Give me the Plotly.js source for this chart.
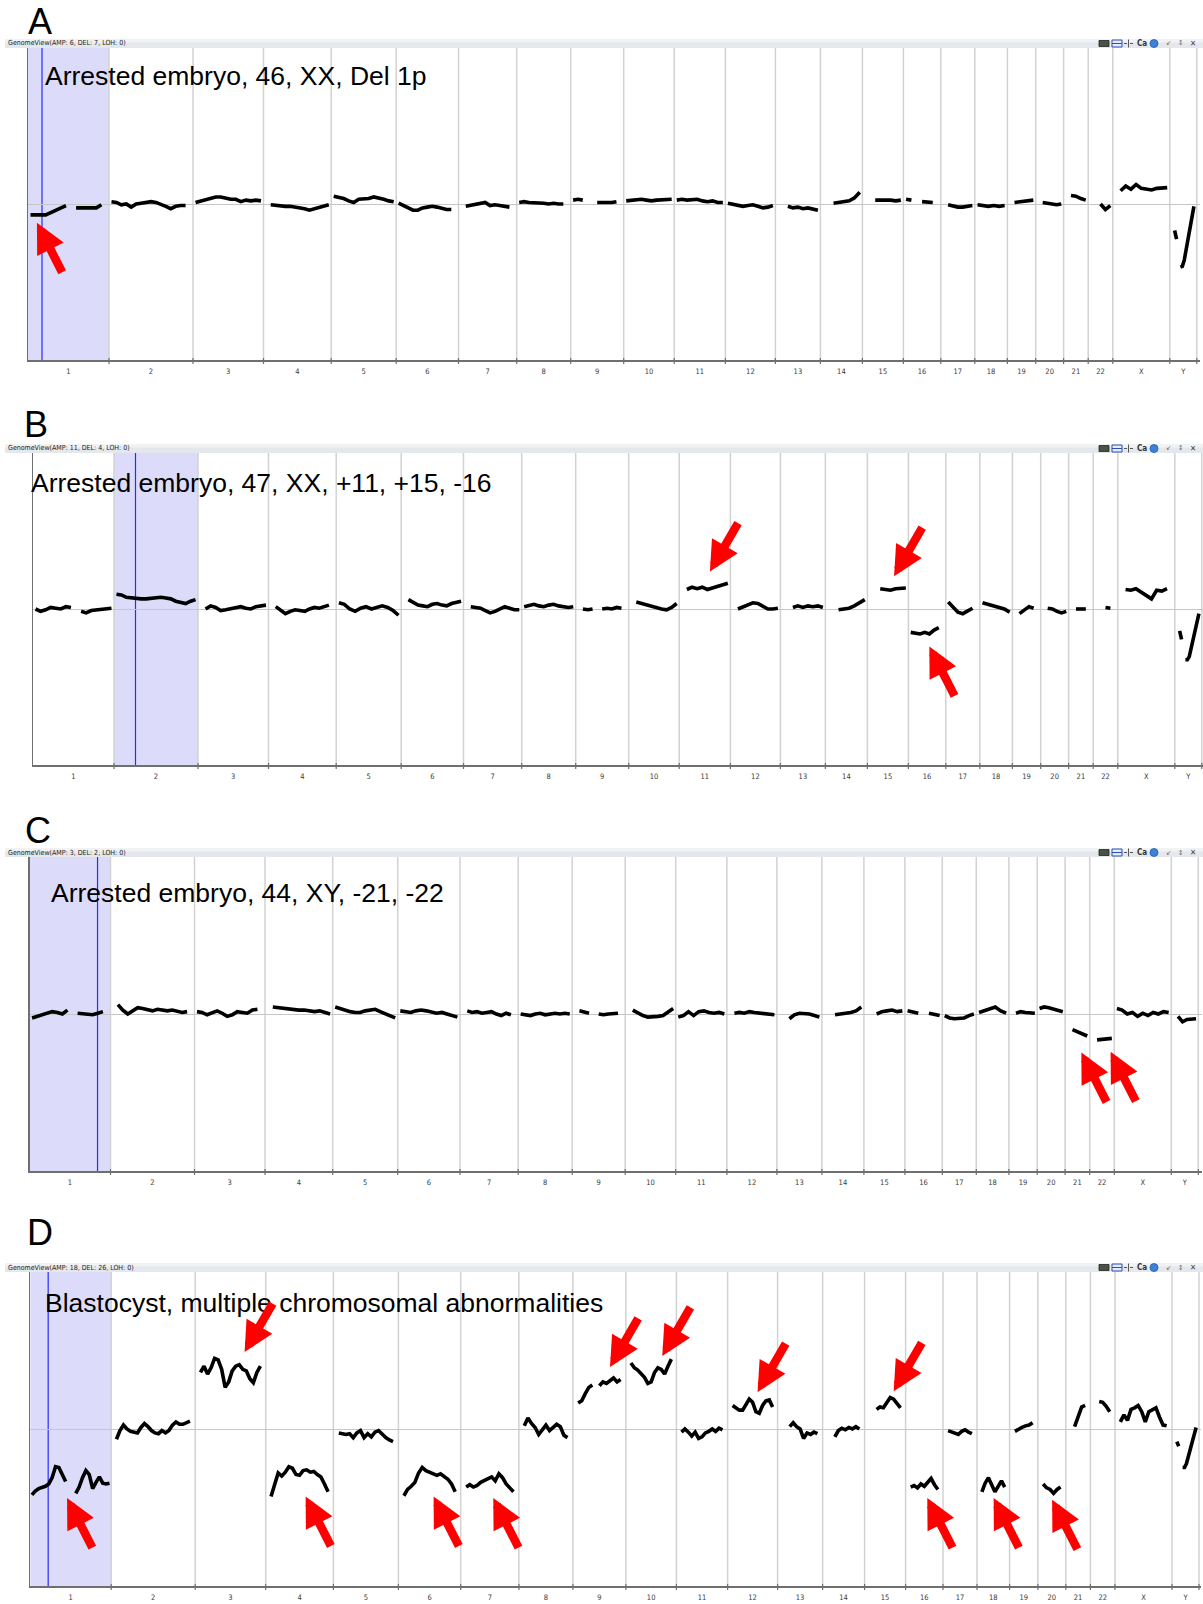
<!DOCTYPE html>
<html>
<head>
<meta charset="utf-8">
<script src="https://cdn.plot.ly/plotly-3.0.1.min.js"></script>
<style>html,body{margin:0;padding:0;background:#fff;}#chart{width:1203px;height:1604px;}</style>
</head>
<body>
<div id="chart"></div>
<script>
// ---------------- DATA ----------------
const chromNames = ['1','2','3','4','5','6','7','8','9','10','11','12','13','14','15','16','17','18','19','20','21','22','X','Y'];
// relative display width of each chromosome in the genome view
const chromSpan = [81,84,70.5,67.7,65,62.3,58.2,54,53,50.5,51.2,50,45,42,41,37.4,34,32.6,28.3,27.9,24.6,24.6,57,27];

const panelTitles = ['Arrested embryo, 46, XX, Del 1p','Arrested embryo, 47, XX, +11, +15, -16','Arrested embryo, 44, XY, -21, -22','Blastocyst, multiple chromosomal abnormalities'];
const panelLetters = ['A','B','C','D'];
const headerTexts = ['GenomeView(AMP: 6, DEL: 7, LOH: 0)','GenomeView(AMP: 11, DEL: 4, LOH: 0)','GenomeView(AMP: 3, DEL: 2, LOH: 0)','GenomeView(AMP: 18, DEL: 26, LOH: 0)'];

// smoothed copy-number ratio per chromosome (evenly spaced bins along each chromosome; null = no data)
const panelA = [
 [-0.14,-0.14,-0.15,-0.14,-0.11,-0.08,-0.04,-0.02,null,-0.05,-0.05,-0.05,-0.04,-0.05,-0.01,null],
 [0.03,0.02,-0.01,0.0,-0.04,0.0,0.01,0.02,0.03,0.02,0.0,-0.03,-0.06,-0.03,-0.02,-0.02,null],
 [0.02,0.04,0.05,0.07,0.09,0.09,0.07,0.06,0.06,0.03,0.05,0.04,0.05,0.04],
 [null,-0.01,-0.02,-0.03,-0.03,-0.03,-0.04,-0.04,-0.06,-0.08,-0.06,-0.04,-0.02,-0.01],
 [0.10,0.09,0.07,0.04,0.02,0.06,0.06,0.07,0.09,0.08,0.06,0.04,0.03],
 [0.01,-0.02,-0.06,-0.08,-0.08,-0.05,-0.04,-0.03,-0.04,-0.06,-0.07,-0.07,null],
 [null,-0.03,-0.02,-0.01,0.01,0.02,-0.02,-0.01,-0.02,-0.03,-0.04,null],
 [0.02,0.03,0.02,0.02,0.01,0.01,0.0,0.01,0.0,0.0,null],
 [0.05,0.06,0.05,null,null,0.02,0.02,0.01,0.02,0.03,null],
 [0.04,0.05,0.06,0.06,0.05,0.04,0.05,0.05,0.06,0.06],
 [0.05,0.06,0.05,0.05,0.06,0.04,0.03,0.04,0.02,0.02],
 [0.01,0.0,-0.02,-0.03,-0.02,-0.01,-0.03,-0.05,-0.04,-0.02],
 [null,null,-0.03,-0.05,-0.04,-0.06,-0.05,-0.07,-0.08],
 [null,null,0.01,0.02,0.03,0.04,0.08,0.15],
 [null,null,0.05,0.05,0.06,0.05,0.04,0.05],
 [0.06,0.05,null,0.03,0.03,0.02,null],
 [null,-0.01,-0.03,-0.04,-0.04,-0.03,-0.02],
 [-0.01,-0.02,-0.03,-0.02,-0.03,-0.02],
 [null,0.02,0.03,0.03,0.04,0.05],
 [null,0.02,0.01,0.0,-0.01,0.0],
 [null,0.11,0.10,0.07,0.05],
 [null,null,0.0,-0.07,-0.02],
 [null,0.17,0.23,0.19,0.25,0.20,0.19,0.18,0.20,0.20,0.21],
 [null,null,-0.34,-0.45,null,-0.81,-0.80,-0.72,-0.58,-0.44,-0.30,-0.16,-0.03,null]
];
const panelB = [
 [0.0,-0.03,-0.01,0.02,0.01,0.0,0.03,0.02,null,-0.03,-0.05,-0.02,-0.01,0.0,0.0,0.01],
 [0.19,0.18,0.15,0.14,0.13,0.13,0.13,0.14,0.15,0.15,0.14,0.13,0.10,0.08,0.07,0.10,0.12],
 [null,0.0,0.04,0.02,-0.02,-0.01,0.0,0.02,0.03,0.01,0.0,0.03,0.04,0.05],
 [null,0.03,-0.02,-0.06,-0.03,-0.01,-0.02,-0.03,0.0,0.02,0.01,0.03,0.05,null],
 [0.08,0.06,0.0,-0.03,0.01,0.03,0.0,0.02,0.04,0.02,-0.02,-0.08],
 [null,0.12,0.08,0.05,0.04,0.03,0.06,0.07,0.05,0.04,0.07,0.09,0.10],
 [null,0.03,0.02,0.01,-0.02,-0.05,-0.03,0.0,0.03,0.01,-0.01,-0.01],
 [0.03,0.04,0.06,0.04,0.03,0.05,0.06,0.04,0.03,0.02,0.03],
 [null,0.0,-0.01,0.0,null,0.0,0.01,0.0,0.02,0.01,null],
 [null,0.09,0.07,0.06,0.04,0.02,0.0,-0.01,0.02,0.07],
 [null,0.25,0.28,0.26,0.28,0.25,0.27,0.29,0.30,0.33],
 [null,0.0,0.03,0.06,0.08,0.07,0.04,0.0,0.0,0.01],
 [null,null,0.02,0.04,0.02,0.04,0.03,0.04,0.02],
 [null,null,-0.01,0.0,0.01,0.04,0.08,0.12],
 [null,null,0.26,0.25,0.24,0.26,0.27,0.27],
 [-0.30,-0.31,-0.32,-0.30,-0.32,-0.27,-0.24,null],
 [0.09,0.03,-0.04,-0.06,-0.03,0.01,null],
 [0.08,0.06,0.04,0.03,0.0,-0.04],
 [null,-0.06,-0.01,0.03,0.01,null],
 [null,0.01,0.0,-0.03,-0.05,-0.03],
 [null,0.0,0.0,0.0,null],
 [null,null,0.02,0.01,null],
 [null,0.25,0.24,0.26,0.22,0.18,0.13,0.24,0.23,0.26,null],
 [null,null,-0.28,-0.39,null,-0.65,-0.65,-0.61,-0.50,-0.39,-0.28,-0.17,-0.06,null]
];
const panelC = [
 [-0.05,-0.03,0.0,0.02,0.03,0.02,0.0,0.05,null,0.01,0.0,-0.01,-0.01,0.01,0.03,null],
 [null,0.12,0.05,0.0,0.04,0.08,0.07,0.05,0.04,0.06,0.05,0.04,0.05,0.03,0.02,0.03,null],
 [0.03,0.02,-0.01,0.01,0.04,0.01,-0.03,-0.01,0.03,0.02,0.01,0.05,0.06,null],
 [null,0.09,0.08,0.07,0.06,0.06,0.05,0.05,0.04,0.03,0.04,0.02,0.0],
 [0.09,0.07,0.04,0.03,0.02,0.02,0.04,0.05,0.06,0.03,0.0,-0.03,-0.05],
 [0.04,0.03,0.02,0.04,0.05,0.04,0.02,0.01,0.02,0.0,-0.02,-0.04],
 [null,0.04,0.02,0.03,0.01,0.02,0.03,0.0,-0.02,0.01,-0.01,null],
 [0.0,-0.01,-0.02,0.0,0.01,-0.01,0.0,0.01,0.0,0.01,0.0],
 [null,0.04,0.02,0.01,null,0.0,-0.01,0.0,0.01,0.01,null],
 [null,0.05,0.01,-0.02,-0.04,-0.04,-0.03,-0.02,0.02,0.07],
 [-0.04,-0.02,0.03,-0.02,0.03,0.04,0.02,0.01,0.02,0.0],
 [null,0.01,0.02,0.01,0.03,0.02,0.01,0.0,0.0,-0.01],
 [null,null,-0.06,-0.01,0.01,0.01,0.0,-0.02,-0.04],
 [null,null,-0.01,0.0,0.0,0.02,0.04,0.09],
 [null,null,0.0,0.03,0.04,0.05,0.03,0.04],
 [0.04,0.02,0.01,null,0.01,0.0,-0.02],
 [-0.02,-0.05,-0.06,-0.06,-0.05,-0.02,0.0],
 [0.02,0.04,0.06,0.09,0.04,0.01],
 [null,0.01,0.03,0.02,0.02,0.01],
 [0.07,0.09,0.08,0.06,0.04,0.03],
 [null,-0.20,-0.23,-0.26,-0.28],
 [null,-0.33,-0.32,-0.31,-0.31],
 [0.07,0.05,0.0,0.02,-0.03,0.01,-0.02,0.02,0.0,0.03,0.02],
 [null,-0.03,-0.10,-0.07,-0.06,-0.06]
];
const panelD = [
 [-0.84,-0.79,-0.76,-0.75,-0.73,-0.70,-0.62,-0.48,-0.49,-0.58,-0.67,null,null,-0.82,-0.74,-0.62,-0.53,-0.58,-0.76,-0.68,-0.61,-0.69,-0.70,-0.69],
 [null,-0.13,-0.02,0.05,0.0,-0.03,-0.04,-0.05,0.02,0.07,0.03,-0.02,-0.05,-0.06,-0.02,-0.05,-0.02,0.05,0.09,0.06,0.06,0.08,0.10,null],
 [null,0.72,0.80,0.70,0.78,0.90,0.88,0.76,0.53,0.60,0.74,0.80,0.82,0.76,0.74,0.64,0.59,0.72,0.80,null],
 [null,-0.86,-0.70,-0.56,-0.60,-0.55,-0.48,-0.50,-0.58,-0.59,-0.53,-0.52,-0.55,-0.54,-0.58,-0.61,-0.70,-0.80,null],
 [null,-0.05,-0.06,-0.07,-0.06,-0.11,-0.05,-0.02,-0.11,-0.06,-0.10,-0.04,-0.02,-0.07,-0.11,-0.14,-0.16,null],
 [null,-0.85,-0.77,-0.73,-0.68,-0.56,-0.49,-0.53,-0.55,-0.56,-0.59,-0.57,-0.61,-0.64,-0.70,-0.80,null],
 [null,-0.74,-0.71,-0.74,-0.72,-0.68,-0.66,-0.63,-0.61,-0.66,-0.57,-0.62,-0.70,-0.75,-0.80,null],
 [null,0.04,0.14,0.07,0.02,-0.07,-0.01,0.05,-0.02,0.02,0.06,0.03,-0.08,-0.11,null],
 [null,0.33,0.36,0.45,0.53,0.56,null,0.55,0.60,0.58,0.62,0.65,0.60,0.63,null],
 [null,0.84,0.78,0.75,0.70,0.66,0.58,0.60,0.72,0.78,0.76,0.70,0.80,0.89,null],
 [null,-0.04,0.0,-0.04,-0.09,-0.04,-0.12,-0.10,-0.05,-0.03,0.0,-0.03,0.01,-0.01,null],
 [null,0.30,0.27,0.24,0.24,0.32,0.38,0.34,0.22,0.20,0.30,0.36,0.37,0.28,null],
 [null,null,null,0.03,0.08,0.03,0.0,-0.12,-0.05,-0.07,-0.04,-0.06,null],
 [null,null,null,-0.10,-0.02,0.01,-0.01,0.02,0.0,0.03,0.0,null],
 [null,null,null,0.25,0.28,0.27,0.33,0.40,0.38,0.32,0.27,null],
 [null,-0.74,-0.72,-0.75,-0.70,-0.73,-0.68,-0.63,-0.71,-0.77,null],
 [null,-0.02,-0.04,-0.05,-0.07,-0.03,-0.01,-0.04,-0.06,null],
 [null,-0.80,-0.69,-0.62,-0.70,-0.80,-0.73,-0.66,-0.74,null],
 [null,-0.03,0.0,0.02,0.04,0.05,0.08,null],
 [null,-0.70,-0.75,-0.77,-0.82,-0.77,-0.74,null],
 [null,null,0.03,0.16,0.28,0.30,null],
 [null,null,0.35,0.34,0.29,0.22,null],
 [null,0.09,0.18,0.11,0.25,0.27,0.30,0.22,0.09,0.22,0.25,0.27,0.15,0.05,0.04,null],
 [null,null,-0.16,-0.22,null,-0.49,-0.49,-0.44,-0.35,-0.26,-0.16,-0.07,0.02,null]
];

// arrow targets: [chromosome index, position fraction along chromosome, ratio value]
const arrowsA = [[0,0.11,-0.24]];
const arrowsB = [[10,0.60,0.48],[14,0.65,0.42],[15,0.56,-0.48]];
const arrowsC = [[20,0.66,-0.49],[21,0.85,-0.48]];
const arrowsD = [[0,0.455,-0.88],[2,0.70,0.98],[3,0.59,-0.86],[5,0.565,-0.86],[6,0.56,-0.88],[8,0.70,0.79],[9,0.72,0.93],[11,0.60,0.47],[14,0.71,0.48],[15,0.58,-0.88],[17,0.51,-0.88],[19,0.51,-0.90]];
// highlighted chromosome and selected position (fraction) per panel
const highlightChrom = [0,1,0,0];
const cursorFrac = [0.173,0.256,0.84,0.222];

// ---------------- LAYOUT GEOMETRY ----------------
const W = 1203, H = 1604;
const geo = [
 {left:28,   R:1172, top:48,   bottom:360,  hdr:[39,48],    letter:[40,22],   title:[43,76]},
 {left:33,   R:1170, top:453,  bottom:765,  hdr:[444,453],  letter:[36,425],  title:[29,483]},
 {left:29.5, R:1172, top:857,  bottom:1171, hdr:[848,857],  letter:[38,830],  title:[49,893]},
 {left:30.2, R:1171, top:1272, bottom:1586, hdr:[1263,1272],letter:[40,1232], title:[43,1303]}
];
const panels = [panelA, panelB, panelC, panelD];
const arrows = [arrowsA, arrowsB, arrowsC, arrowsD];

const starts = []; let acc = 0;
chromSpan.forEach(s => { starts.push(acc); acc += s; });
const totalSpan = acc;
const bounds = starts.concat([totalSpan]);
const centers = chromSpan.map((s,i) => starts[i] + s/2);

const px = v => v / W;
const py = v => 1 - v / H;
const FONT = 'Liberation Sans, Arial, sans-serif';
const SMALL = 'DejaVu Sans Condensed, DejaVu Sans, sans-serif';

const traces = [], shapes = [], annotations = [];
const layout = {
  width: W, height: H, margin: {l:0,r:0,t:0,b:0}, showlegend: false,
  paper_bgcolor: '#ffffff', plot_bgcolor: 'rgba(0,0,0,0)'
};

panels.forEach((pdata, p) => {
  const g = geo[p];
  const xa = p === 0 ? 'x' : 'x' + (p+1);
  const ya = p === 0 ? 'y' : 'y' + (p+1);
  const xKey = p === 0 ? 'xaxis' : 'xaxis' + (p+1);
  const yKey = p === 0 ? 'yaxis' : 'yaxis' + (p+1);

  // trace
  const xs = [], ys = [];
  pdata.forEach((vals, c) => {
    const n = vals.length, w = chromSpan[c] / n;
    vals.forEach((v, i) => { xs.push(starts[c] + (i + 0.5) * w); ys.push(v); });
    xs.push(null); ys.push(null);
  });
  traces.push({type:'scatter', mode:'lines', x:xs, y:ys, xaxis:xa, yaxis:ya,
    line:{color:'#000000', width:3.6}, connectgaps:false, hoverinfo:'skip'});

  layout[xKey] = {
    domain:[px(g.left), px(g.left + g.R)], range:[0, g.R], anchor: ya,
    showgrid:false, zeroline:false, showline:true, linecolor:'#6f6f6f', linewidth:1.5,
    tickmode:'array', tickvals:centers, ticktext:chromNames,
    ticks:'outside', ticklen:3, tickcolor:'rgba(0,0,0,0)',
    tickfont:{family:SMALL, size:7.5, color:'#3a3a3a'}, fixedrange:true
  };
  layout[yKey] = {
    domain:[py(g.bottom), py(g.top)], range:[-2,2], anchor: xa,
    showgrid:false, showticklabels:false, ticks:'',
    zeroline:true, zerolinecolor:'#c6c6c6', zerolinewidth:1,
    showline:true, linecolor:'#6f6f6f', linewidth:1.5, fixedrange:true
  };

  // highlighted chromosome
  const hc = highlightChrom[p];
  shapes.push({type:'rect', layer:'below', xref:xa, yref:ya+' domain',
    x0:bounds[hc], x1:bounds[hc+1], y0:0, y1:1, fillcolor:'#dcdcfa', line:{width:0}});
  const cx = starts[hc] + cursorFrac[p] * chromSpan[hc];
  shapes.push({type:'line', layer:'below', xref:xa, yref:ya+' domain',
    x0:cx, x1:cx, y0:0, y1:1, line:{color:'#2a2aff', width:1.2}});

  // chromosome boundaries
  const hpx = g.bottom - g.top;
  bounds.slice(1).forEach(b => {
    shapes.push({type:'line', layer:'below', xref:xa, yref:ya+' domain',
      x0:b, x1:b, y0:0, y1:1, line:{color:'#d2d2d2', width:1.5}});
    shapes.push({type:'line', layer:'above', xref:xa, yref:ya+' domain',
      x0:b, x1:b, y0:2/hpx, y1:-4/hpx, line:{color:'#6f6f6f', width:1.2}});
  });

  // header bar
  const h0 = g.hdr[0], h1 = g.hdr[1], hm = (h0+h1)/2;
  shapes.push({type:'rect', xref:'paper', yref:'paper', x0:px(5), x1:1, y0:py(h1), y1:py(h0),
    fillcolor:'#e4e7eb', line:{width:0}, layer:'above'});
  shapes.push({type:'rect', xref:'paper', yref:'paper', x0:px(5), x1:1, y0:py(hm-1), y1:py(h0),
    fillcolor:'#f1f2f4', line:{width:0}, layer:'above'});
  annotations.push({xref:'paper', yref:'paper', x:px(6), y:py(hm), xanchor:'left', yanchor:'middle',
    text:headerTexts[p], showarrow:false, font:{family:SMALL, size:7, color:'#222'}});
  // header icons
  shapes.push({type:'rect', xref:'paper', yref:'paper', x0:px(1099), x1:px(1109), y0:py(hm+3), y1:py(hm-3),
    fillcolor:'#465446', line:{color:'#222', width:0.8}, layer:'above'});
  shapes.push({type:'rect', xref:'paper', yref:'paper', x0:px(1112), x1:px(1122), y0:py(hm+3.5), y1:py(hm-3.5),
    fillcolor:'#e4ecff', line:{color:'#2b4fb5', width:1}, layer:'above'});
  shapes.push({type:'line', xref:'paper', yref:'paper', x0:px(1112), x1:px(1122), y0:py(hm), y1:py(hm),
    line:{color:'#2b4fb5', width:1}, layer:'above'});
  shapes.push({type:'line', xref:'paper', yref:'paper', x0:px(1124), x1:px(1133), y0:py(hm), y1:py(hm),
    line:{color:'#555', width:1, dash:'dot'}, layer:'above'});
  shapes.push({type:'line', xref:'paper', yref:'paper', x0:px(1128.5), x1:px(1128.5), y0:py(hm+4), y1:py(hm-4),
    line:{color:'#555', width:1}, layer:'above'});
  annotations.push({xref:'paper', yref:'paper', x:px(1142), y:py(hm), xanchor:'center', yanchor:'middle',
    text:'<b>Ca</b>', showarrow:false, font:{family:SMALL, size:8, color:'#333'}});
  shapes.push({type:'circle', xref:'paper', yref:'paper', x0:px(1150), x1:px(1158), y0:py(hm+4), y1:py(hm-4),
    fillcolor:'#3d82d6', line:{color:'#1e5aa8', width:0.8}, layer:'above'});
  annotations.push({xref:'paper', yref:'paper', x:px(1168), y:py(hm), xanchor:'center', yanchor:'middle',
    text:'↙', showarrow:false, font:{family:SMALL, size:7, color:'#666'}});
  annotations.push({xref:'paper', yref:'paper', x:px(1180), y:py(hm), xanchor:'center', yanchor:'middle',
    text:'↕', showarrow:false, font:{family:SMALL, size:7, color:'#666'}});
  annotations.push({xref:'paper', yref:'paper', x:px(1193), y:py(hm), xanchor:'center', yanchor:'middle',
    text:'✕', showarrow:false, font:{family:SMALL, size:8, color:'#444'}});

  // panel letter and title
  annotations.push({xref:'paper', yref:'paper', x:px(g.letter[0]), y:py(g.letter[1]), xanchor:'center', yanchor:'middle',
    text:panelLetters[p], showarrow:false, font:{family:FONT, size:36, color:'#000'}});
  annotations.push({xref:'paper', yref:'paper', x:px(g.title[0]), y:py(g.title[1]), xanchor:'left', yanchor:'middle',
    text:panelTitles[p], showarrow:false, font:{family:FONT, size:26.5, color:'#000'}});

  // red arrows
  arrows[p].forEach(a => {
    const gain = a[2] > 0;
    annotations.push({xref:xa, yref:ya, x:starts[a[0]] + a[1]*chromSpan[a[0]], y:a[2],
      text:'', showarrow:true, arrowhead:2, arrowsize:0.7, arrowwidth:8.5, arrowcolor:'#ff0000',
      ax: gain ? 29 : 26, ay: gain ? -50 : 51, standoff:0});
  });
});

layout.shapes = shapes;
layout.annotations = annotations;
Plotly.newPlot('chart', traces, layout, {displayModeBar:false, staticPlot:true});
</script>
</body>
</html>
